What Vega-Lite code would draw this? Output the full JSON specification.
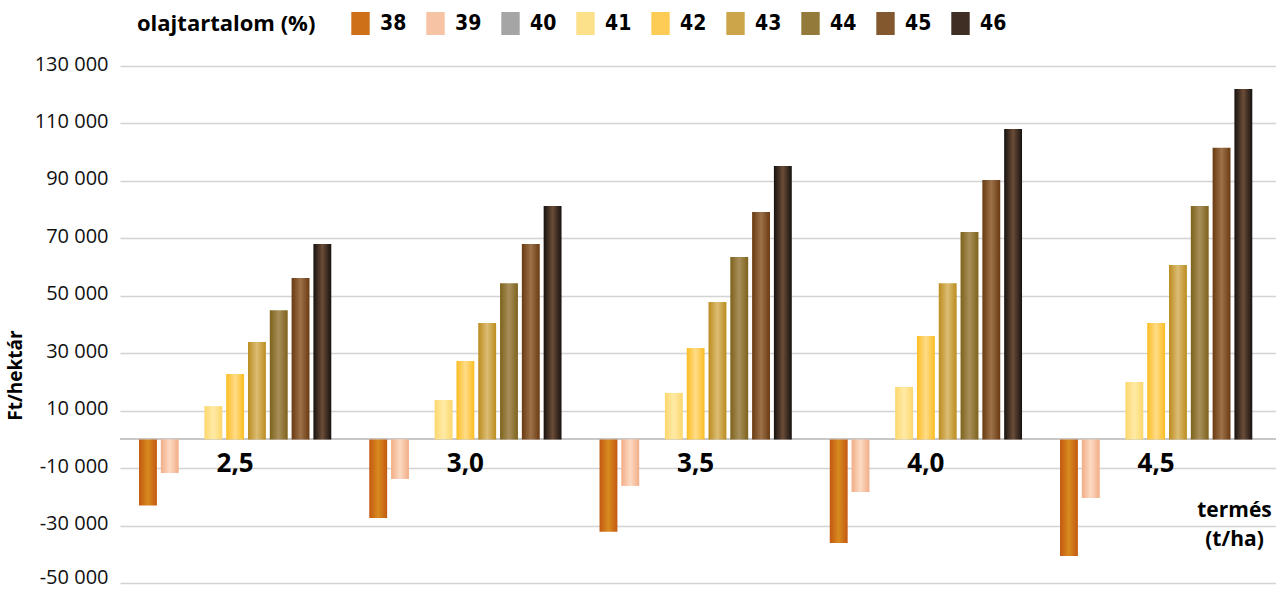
{
  "$schema": "https://vega.github.io/schema/vega-lite/v6.json",
  "width": 1156,
  "height": 517,
  "autosize": {"type": "none"},
  "padding": {"left": 120, "top": 66, "right": 0, "bottom": 6},
  "background": "white",
  "config": {
    "locale": {"number": {"decimal": ",", "thousands": " ", "grouping": [3], "currency": ["", ""], "minus": "-"}},
    "view": {"stroke": null},
    "font": "Open Sans"
  },
  "data": {
    "values": [
      {"termes": "2,5", "olaj": "38", "ertek": -23000},
      {"termes": "2,5", "olaj": "39", "ertek": -11700},
      {"termes": "2,5", "olaj": "40", "ertek": 0},
      {"termes": "2,5", "olaj": "41", "ertek": 11600},
      {"termes": "2,5", "olaj": "42", "ertek": 22800},
      {"termes": "2,5", "olaj": "43", "ertek": 33900},
      {"termes": "2,5", "olaj": "44", "ertek": 45000},
      {"termes": "2,5", "olaj": "45", "ertek": 56200},
      {"termes": "2,5", "olaj": "46", "ertek": 68000},
      {"termes": "3,0", "olaj": "38", "ertek": -27400},
      {"termes": "3,0", "olaj": "39", "ertek": -13800},
      {"termes": "3,0", "olaj": "40", "ertek": 0},
      {"termes": "3,0", "olaj": "41", "ertek": 13700},
      {"termes": "3,0", "olaj": "42", "ertek": 27300},
      {"termes": "3,0", "olaj": "43", "ertek": 40500},
      {"termes": "3,0", "olaj": "44", "ertek": 54400},
      {"termes": "3,0", "olaj": "45", "ertek": 68000},
      {"termes": "3,0", "olaj": "46", "ertek": 81300},
      {"termes": "3,5", "olaj": "38", "ertek": -32200},
      {"termes": "3,5", "olaj": "39", "ertek": -16200},
      {"termes": "3,5", "olaj": "40", "ertek": 0},
      {"termes": "3,5", "olaj": "41", "ertek": 16200},
      {"termes": "3,5", "olaj": "42", "ertek": 31800},
      {"termes": "3,5", "olaj": "43", "ertek": 47800},
      {"termes": "3,5", "olaj": "44", "ertek": 63500},
      {"termes": "3,5", "olaj": "45", "ertek": 79200},
      {"termes": "3,5", "olaj": "46", "ertek": 95200},
      {"termes": "4,0", "olaj": "38", "ertek": -36100},
      {"termes": "4,0", "olaj": "39", "ertek": -18300},
      {"termes": "4,0", "olaj": "40", "ertek": 0},
      {"termes": "4,0", "olaj": "41", "ertek": 18200},
      {"termes": "4,0", "olaj": "42", "ertek": 36000},
      {"termes": "4,0", "olaj": "43", "ertek": 54400},
      {"termes": "4,0", "olaj": "44", "ertek": 72200},
      {"termes": "4,0", "olaj": "45", "ertek": 90300},
      {"termes": "4,0", "olaj": "46", "ertek": 108100},
      {"termes": "4,5", "olaj": "38", "ertek": -40600},
      {"termes": "4,5", "olaj": "39", "ertek": -20400},
      {"termes": "4,5", "olaj": "40", "ertek": 0},
      {"termes": "4,5", "olaj": "41", "ertek": 20000},
      {"termes": "4,5", "olaj": "42", "ertek": 40500},
      {"termes": "4,5", "olaj": "43", "ertek": 60700},
      {"termes": "4,5", "olaj": "44", "ertek": 81300},
      {"termes": "4,5", "olaj": "45", "ertek": 101500},
      {"termes": "4,5", "olaj": "46", "ertek": 122000}
    ]
  },
  "encoding": {
    "x": {
      "field": "termes", "type": "nominal", "sort": null,
      "scale": {"paddingInner": 0.165, "paddingOuter": 0.0928, "align": 0.445},
      "axis": {
        "orient": "bottom", "domain": false, "ticks": false, "grid": false,
        "labelAngle": 0, "labelFont": "Open Sans", "labelFontSize": 26, "labelFontWeight": "bold",
        "labelColor": "#000000", "labelPadding": -133, "labelBaseline": "top",
        "title": ["termés", "(t/ha)"], "titleFont": "Open Sans", "titleFontSize": 21, "titleFontWeight": "bold",
        "titleColor": "#000000", "titleX": 1114, "titleY": -84, "titleAlign": "center", "titleBaseline": "top",
        "titleLineHeight": 29
      }
    },
    "xOffset": {
      "field": "olaj", "type": "nominal", "sort": null,
      "scale": {"domain": ["38", "39", "40", "41", "42", "43", "44", "45", "46"], "paddingInner": 0.18, "paddingOuter": 0}
    },
    "y": {
      "field": "ertek", "type": "quantitative",
      "scale": {"domain": [-50000, 130000], "nice": false, "zero": false},
      "axis": {
        "values": [-50000, -30000, -10000, 10000, 30000, 50000, 70000, 90000, 110000, 130000],
        "format": ",d", "domain": false, "ticks": false, "grid": true,
        "gridColor": "#d3d3d3", "gridWidth": 1.6,
        "labelFont": "Open Sans", "labelFontSize": 20, "labelColor": "#111111", "labelPadding": 12,
        "labelOffset": {"condition": {"test": "datum.value === -50000", "value": -6}, "value": -2},
        "title": "Ft/hektár", "titleFont": "Open Sans", "titleFontSize": 19, "titleFontWeight": "bold",
        "titleColor": "#000000", "titleAngle": -90, "titleX": -105, "titleY": 309,
        "titleAlign": "center", "titleBaseline": "middle"
      }
    }
  },
  "layer": [
    {
      "mark": {"type": "rule", "color": "#c8c8c8", "strokeWidth": 1.2},
      "encoding": {"x": null, "xOffset": null, "y": {"datum": 0, "type": "quantitative"}}
    },
    {
      "mark": {"type": "bar", "opacity": 0},
      "encoding": {
        "color": {
          "field": "olaj", "type": "nominal", "sort": null,
          "scale": {
            "domain": ["38", "39", "40", "41", "42", "43", "44", "45", "46"],
            "range": ["#cd7018", "#f7c3a5", "#a5a5a5", "#fde08a", "#fdcc55", "#cca449", "#937a3b", "#84582e", "#3e2e24"]
          },
          "legend": {
            "orient": "none", "legendX": 17, "legendY": -54, "direction": "horizontal", "columns": 9,
            "title": "olajtartalom (%)", "titleOrient": "left", "titleFont": "Open Sans", "titleFontSize": 22,
            "titleFontWeight": "bold", "titleColor": "#000000", "titlePadding": 33,
            "labelFont": "DejaVu Sans Condensed", "labelFontSize": 21,
            "labelFontWeight": "bold", "labelColor": "#000000", "labelOffset": 8,
            "symbolType": "M-0.8,-1L0.8,-1L0.8,1L-0.8,1Z", "symbolSize": 529, "symbolStrokeWidth": 0,
            "symbolOpacity": 1, "columnPadding": 17
          }
        }
      }
    },
    {
      "mark": {"type": "bar"},
      "encoding": {
        "color": {
          "condition": [
            {"test": "datum.olaj === '38'", "value": {"gradient": "linear", "x1": 0, "y1": 0, "x2": 1, "y2": 0, "stops": [{"offset": 0, "color": "#c45812"}, {"offset": 0.5, "color": "#d78b1f"}, {"offset": 1, "color": "#c45812"}]}},
            {"test": "datum.olaj === '39'", "value": {"gradient": "linear", "x1": 0, "y1": 0, "x2": 1, "y2": 0, "stops": [{"offset": 0, "color": "#f2ad86"}, {"offset": 0.5, "color": "#fcdac4"}, {"offset": 1, "color": "#f2ad86"}]}},
            {"test": "datum.olaj === '40'", "value": "#a5a5a5"},
            {"test": "datum.olaj === '41'", "value": {"gradient": "linear", "x1": 0, "y1": 0, "x2": 1, "y2": 0, "stops": [{"offset": 0, "color": "#fcd76c"}, {"offset": 0.5, "color": "#ffeaa6"}, {"offset": 1, "color": "#fcd76c"}]}},
            {"test": "datum.olaj === '42'", "value": {"gradient": "linear", "x1": 0, "y1": 0, "x2": 1, "y2": 0, "stops": [{"offset": 0, "color": "#fbbd22"}, {"offset": 0.5, "color": "#ffdc88"}, {"offset": 1, "color": "#fbbd22"}]}},
            {"test": "datum.olaj === '43'", "value": {"gradient": "linear", "x1": 0, "y1": 0, "x2": 1, "y2": 0, "stops": [{"offset": 0, "color": "#bb8c1e"}, {"offset": 0.5, "color": "#dcbd74"}, {"offset": 1, "color": "#bb8c1e"}]}},
            {"test": "datum.olaj === '44'", "value": {"gradient": "linear", "x1": 0, "y1": 0, "x2": 1, "y2": 0, "stops": [{"offset": 0, "color": "#7d621c"}, {"offset": 0.5, "color": "#a88f5a"}, {"offset": 1, "color": "#7d621c"}]}},
            {"test": "datum.olaj === '45'", "value": {"gradient": "linear", "x1": 0, "y1": 0, "x2": 1, "y2": 0, "stops": [{"offset": 0, "color": "#6a3a12"}, {"offset": 0.5, "color": "#9d7249"}, {"offset": 1, "color": "#6a3a12"}]}}
          ],
          "value": {"gradient": "linear", "x1": 0, "y1": 0, "x2": 1, "y2": 0, "stops": [{"offset": 0, "color": "#161210"}, {"offset": 0.5, "color": "#6b4c37"}, {"offset": 1, "color": "#161210"}]}
        }
      }
    }
  ]
}
